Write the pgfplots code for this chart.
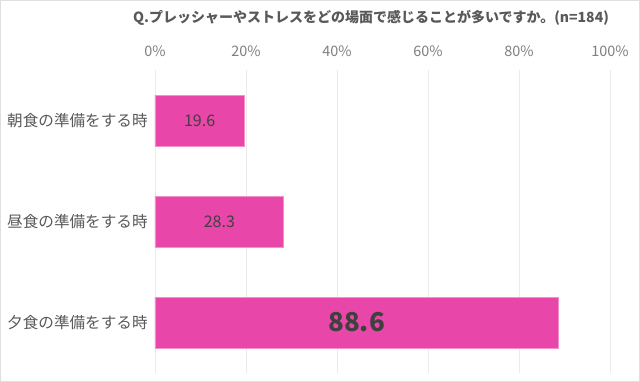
\documentclass[border=0pt]{standalone}
\usepackage{pgfplots}
\pgfplotsset{compat=1.18}
\usepackage{pgfplotstable}
\usepackage{fontspec}
\setmainfont{Noto Sans CJK JP}
\definecolor{barpink}{HTML}{E846A8}
\definecolor{labgray}{HTML}{595959}
\definecolor{tickgray}{HTML}{7F7F7F}
\definecolor{valgray}{HTML}{404040}
\definecolor{gridgray}{HTML}{EBEBEB}
\pgfplotstableread{
i v lab
1 19.6 19.6
2 28.3 28.3
3 88.6 88.6
}\data
\pgfplotstableread{
i v lab
1 19.6 19.6
2 28.3 28.3
}\small
\pgfplotstableread{
i v lab
3 88.6 88.6
}\big
\begin{document}
\begin{tikzpicture}
\useasboundingbox (0,0) rectangle (480pt,286.5pt);
\fill[white] (0,0) rectangle (480pt,286.5pt);
\draw[gray!25, line width=0.6pt] (0.3pt,0.3pt) rectangle (479.7pt,286.2pt);
\node[font=\bfseries\fontsize{10.5pt}{12pt}\selectfont, text=labgray] at (278.25pt,273pt) {Q.プレッシャーやストレスをどの場面で感じることが多いですか。(n=184)};
\begin{axis}[
  at={(116.25pt,6.75pt)}, anchor=south west,
  scale only axis, width=341.25pt, height=227.25pt,
  xbar, bar width=38.25pt,
  xmin=0, xmax=100, ymin=0.5, ymax=3.5,
  y dir=reverse,
  axis line style={draw=none},
  xtick={0,20,40,60,80,100},
  xticklabels={0\%,20\%,40\%,60\%,80\%,100\%},
  xticklabel pos=upper,
  xticklabel style={font=\fontsize{10.8pt}{12pt}\selectfont, text=tickgray, yshift=6.5pt},
  ytick={1,2,3},
  yticklabels={朝食の準備をする時,昼食の準備をする時,夕食の準備をする時},
  yticklabel style={font=\fontsize{11.7pt}{13pt}\selectfont, text=labgray, xshift=-2pt},
  major tick length=0pt,
  xmajorgrids, grid style={gridgray, line width=0.6pt},
  clip=false,
]
\addplot[fill=barpink, draw=barpink!60!white, line width=0.6pt] table[x=v, y=i] {\data};
\addplot[draw=none, mark=none, forget plot,
  nodes near coords, point meta=explicit symbolic,
  every node near coord/.style={anchor=center, font=\fontsize{12pt}{13pt}\selectfont, text=valgray}]
  table[x expr=\thisrow{v}/2, y=i, meta=lab] {\small};
\addplot[draw=none, mark=none, forget plot,
  nodes near coords, point meta=explicit symbolic,
  every node near coord/.style={anchor=center, font=\bfseries\fontsize{19.5pt}{22pt}\selectfont, text=valgray}]
  table[x expr=\thisrow{v}/2, y=i, meta=lab] {\big};
\end{axis}
\end{tikzpicture}
\end{document}
